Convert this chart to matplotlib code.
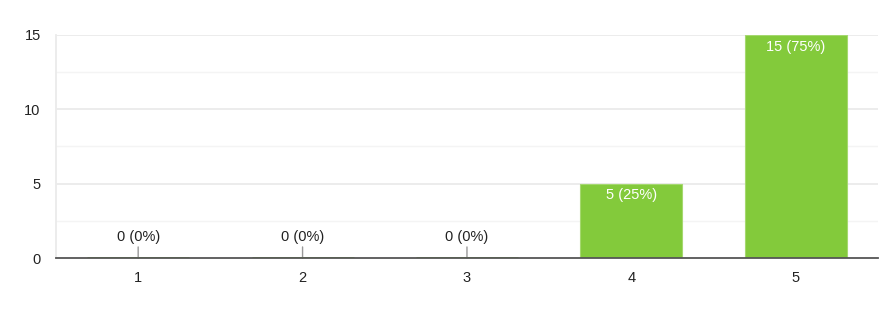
import matplotlib
matplotlib.use("Agg")
import matplotlib.pyplot as plt

categories = ["1", "2", "3", "4", "5"]
counts = [0, 0, 0, 5, 15]
percents = [0, 0, 0, 25, 75]
yticks = [0, 5, 10, 15]

plt.rcParams['font.family'] = ['Liberation Sans', 'DejaVu Sans']
fig = plt.figure(figsize=(8.87, 3.2), dpi=100)
ax = fig.add_axes([0.0631, 0.19375, 0.9267, 0.6969])

x = list(range(len(categories)))
green = "#83ca3b"
ax.bar(x, counts, width=0.62, color=green, edgecolor="#a5d86f", linewidth=0.8, zorder=3)
ax.set_xlim(-0.5, len(categories) - 0.5)
ax.set_ylim(0, 15)

# gridlines
for v in [2.5, 7.5, 12.5]:
    ax.axhline(v, color="#f4f4f4", lw=1, zorder=1)
for v in [5, 10, 15]:
    ax.axhline(v, color="#ebebeb", lw=1.3, zorder=1)

for s in ["top", "right"]:
    ax.spines[s].set_visible(False)
ax.spines["left"].set_color("#ebebeb")
ax.spines["left"].set_linewidth(1.3)
ax.spines["bottom"].set_color("#555555")
ax.spines["bottom"].set_linewidth(1.3)
ax.spines["bottom"].set_zorder(5)

ax.set_yticks(yticks)
ax.set_yticklabels([str(v) for v in yticks])
ax.set_xticks(x)
ax.set_xticklabels(categories)
ax.tick_params(axis="both", length=0, labelsize=10.5, labelcolor="#222222")
ax.tick_params(axis="y", pad=11)
ax.tick_params(axis="x", pad=9)

for xi, c, p in zip(x, counts, percents):
    label = f"{c} ({p}%)"
    if c == 0:
        ax.plot([xi - 0.31, xi + 0.31], [0, 0], color=green, lw=2, zorder=4,
                solid_capstyle="butt")
        ax.annotate(label, xy=(xi, 0), xytext=(0, 15), textcoords="offset points",
                    ha="center", va="center", fontsize=10.5, color="#222222",
                    arrowprops=dict(arrowstyle="-", color="#999999", lw=1,
                                    shrinkA=0, shrinkB=0))
    else:
        ax.annotate(label, xy=(xi, c), xytext=(0, -8.5), textcoords="offset points",
                    ha="center", va="center", fontsize=10.5, color="white", zorder=6)

fig.savefig("out.png", dpi=100)
